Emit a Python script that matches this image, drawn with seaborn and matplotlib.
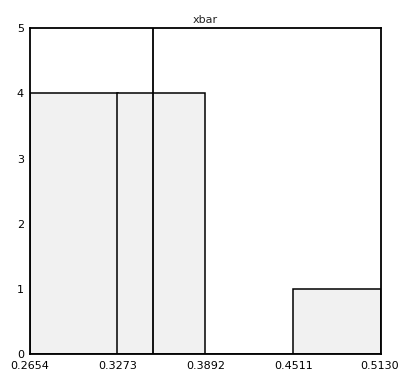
import matplotlib
matplotlib.use("Agg")
import matplotlib.pyplot as plt
import matplotlib.transforms as mtransforms
import numpy as np
import pandas as pd
import seaborn as sns

# Histogram of the sample means
bin_edges = [0.2654, 0.3273, 0.3892, 0.4511, 0.5130]
bin_counts = [4, 4, 0, 1]
mean_line = 0.352
tick_labels = ["0.2654", "0.3273", "0.3892", "0.4511", "0.5130"]
y_ticks = [0, 1, 2, 3, 4, 5]

sns.set_style("white")
plt.rcParams["font.family"] = ["DejaVu Sans"]

centers = [(a + b) / 2 for a, b in zip(bin_edges[:-1], bin_edges[1:])]
df = pd.DataFrame({"xbar": centers, "count": bin_counts})

fig = plt.figure(figsize=(4.0, 3.78), dpi=100)
ax = fig.add_axes([0.074, 0.0635, 0.879, 0.8615])

sns.histplot(data=df, x="xbar", weights="count", bins=bin_edges,
             color="#f1f1f1", edgecolor="black", linewidth=1.1,
             alpha=1.0, ax=ax)
ax.axvline(mean_line, color="black", linewidth=1.3)

ax.set_xlim(bin_edges[0], bin_edges[-1])
ax.set_ylim(0, 5)
ax.set_xticks(bin_edges)
ax.set_xticklabels(tick_labels)
ax.set_yticks(y_ticks)
ax.set_xlabel("")
ax.set_ylabel("")
ax.set_title("xbar", fontsize=8, pad=4)
ax.tick_params(direction="in", length=3, width=1, labelsize=8,
               colors="black")
ax.tick_params(axis="x", pad=5)
ax.tick_params(axis="y", pad=4)

# keep the rightmost tick label inside the figure
last = ax.get_xticklabels()[-1]
last.set_transform(last.get_transform()
                   + mtransforms.ScaledTranslation(-2 / 100, 0, fig.dpi_scale_trans))

for s in ax.spines.values():
    s.set_visible(True)
    s.set_color("black")
    s.set_linewidth(1.3)

fig.savefig("out.png", dpi=100, facecolor="white")
